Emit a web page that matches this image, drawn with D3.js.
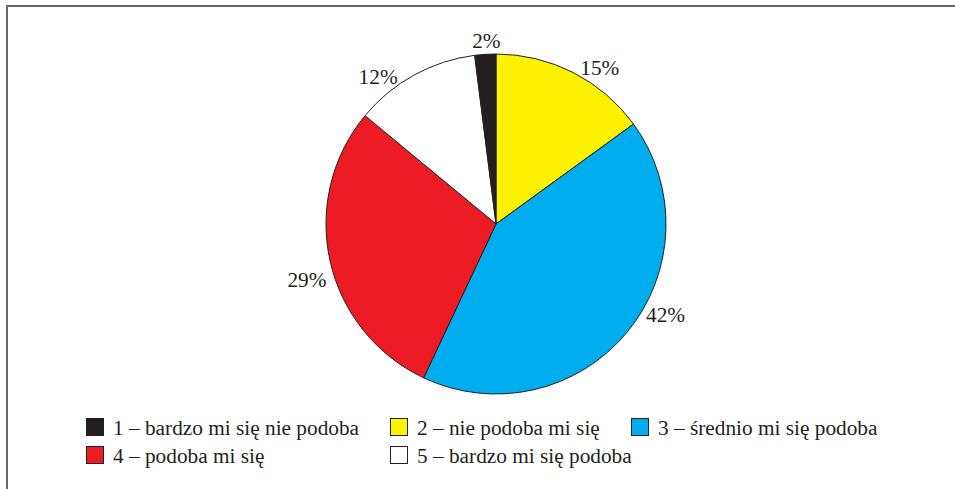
<!DOCTYPE html>
<html><head><meta charset="utf-8">
<script src="https://cdn.jsdelivr.net/npm/d3@7"></script>
<style>html,body{margin:0;padding:0;background:#fff;}svg{display:block;}
text{font-family:"Liberation Serif","DejaVu Serif",serif;}</style>
</head><body>
<svg id="chart" width="955" height="489"></svg>
<script>
const categories = ["2 – nie podoba mi się","3 – średnio mi się podoba","4 – podoba mi się","5 – bardzo mi się podoba","1 – bardzo mi się nie podoba"];
const values = [15, 42, 29, 12, 2];
const colors = ["#fff200","#00aeef","#ed1c24","#ffffff","#231f20"];
const legendOrder = ["1 – bardzo mi się nie podoba","2 – nie podoba mi się","3 – średnio mi się podoba","4 – podoba mi się","5 – bardzo mi się podoba"];

const svg = d3.select("#chart");
const W = 955, H = 489;
const ink = "#231f20";

svg.append("rect").attr("x",7).attr("y",6).attr("width",W+20).attr("height",H+20)
  .attr("fill","none").attr("stroke","#666").attr("stroke-width",2);

const cx = 496, cy = 224, R = 170;
const color = d3.scaleOrdinal().domain(categories).range(colors);
const pie = d3.pie().value(d=>d.v).sort(null);
const data = categories.map((c,i)=>({c, v: values[i]}));
const arcs = pie(data);
const arc = d3.arc().innerRadius(0).outerRadius(R);
const g = svg.append("g").attr("transform",`translate(${cx},${cy})`);
g.selectAll("path").data(arcs).join("path")
  .attr("d",arc).attr("fill",d=>color(d.data.c))
  .attr("stroke",ink).attr("stroke-width",1).attr("stroke-linejoin","round");

const labelShiftDeg = [6.5, -11.6, -3.7, -9.8, 0.6];
const labelRad = [188, 192, 197, 189, 184];
g.selectAll("text.lbl").data(arcs).join("text").attr("class","lbl")
  .each(function(d,i){
    const a = (d.startAngle + d.endAngle)/2 + labelShiftDeg[i]*Math.PI/180;
    const r = labelRad[i];
    d3.select(this).attr("x", r*Math.sin(a)).attr("y", -r*Math.cos(a) + 7.5);
  })
  .attr("text-anchor","middle").attr("font-size",21.3)
  .attr("fill",ink).text(d=>d.data.v+"%");

const legX = [86, 390, 631], legY = [418, 446];
const leg = svg.append("g");
legendOrder.forEach((name,i)=>{
  const col = i % 3, row = Math.floor(i/3);
  const x = legX[col], y = legY[row];
  leg.append("rect").attr("x",x+0.5).attr("y",y+0.5).attr("width",17).attr("height",17)
    .attr("fill",color(name)).attr("stroke",ink).attr("stroke-width",1);
  leg.append("text").attr("x",x+27).attr("y",y+17).attr("font-size",21.3)
    .attr("fill",ink).text(name);
});
</script>
</body></html>
